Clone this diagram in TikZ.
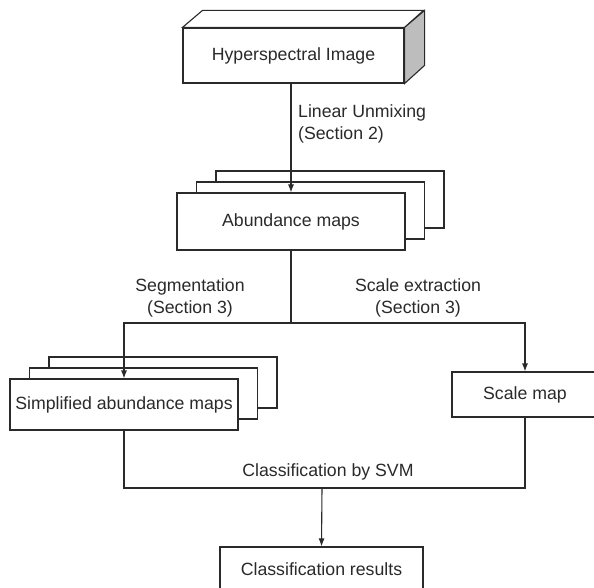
\documentclass[tikz,border=0pt]{standalone}
\usepackage{fontspec}
\setmainfont{Liberation Sans}
\usepackage{xcolor}
\usepackage{tikz}
\usetikzlibrary{arrows.meta}

\definecolor{inkgray}{HTML}{2A2A2A}
\definecolor{sidegray}{HTML}{BDBDBD}
\tikzset{
  box/.style={draw=inkgray, line width=1.1pt, fill=white, inner sep=0pt,
    text=inkgray, font=\fontsize{17.7}{22}\selectfont},
  lbl/.style={inner sep=0pt, text=inkgray, font=\fontsize{17.7}{22}\selectfont},
  arr/.style={draw=inkgray, line width=1.1pt, -{Latex[length=8pt,width=6pt]}},
  ln/.style={draw=inkgray, line width=1.1pt}
}

\begin{document}
\begin{tikzpicture}[x=1pt,y=-1pt]
\clip (0,0) rectangle (594,588);
\fill[white] (0,0) rectangle (594,588);
% hyperspectral cube
\node[box, minimum width=221pt, minimum height=55pt] (hsi) at (293.5,55.5) {Hyperspectral Image};
\draw[ln, fill=white] (hsi.north west) -- ++(20,-17) -- ++(221,0) -- (hsi.north east) -- cycle;
\draw[ln, fill=sidegray] (hsi.north east) -- ++(20,-17) -- ++(0,55) -- (hsi.south east) -- cycle;
% stacked maps
\foreach \k in {2,1}
  \node[box, minimum width=228pt, minimum height=57pt] (abd\k) at (291+\k*19.5,221.5-\k*11) {};
\node[box, minimum width=228pt, minimum height=57pt] (abd) at (291,221.5) {Abundance maps};
\foreach \k in {2,1}
  \node[box, minimum width=228pt, minimum height=51pt] (sam\k) at (124+\k*19.5,404.5-\k*11) {};
\node[box, minimum width=228pt, minimum height=51pt] (sam) at (124,404.5) {Simplified abundance maps};
\node[box, minimum width=146pt, minimum height=45pt] (scl) at (525,394.5) {Scale map};
\node[box, minimum width=203pt, minimum height=45pt] (res) at (321.5,569.5) {Classification results};
% connectors
\coordinate (split) at (291,323);
\coordinate (merge) at (322,488);
\draw[arr] (hsi.south -| abd.north) -- (abd.north);
\draw[ln] (abd.south) -- (split);
\draw[arr] (split) -| (sam.north);
\draw[arr] (split) -| (scl.north);
\draw[ln] (sam.south) |- (merge) -| (scl.south);
\draw[arr] (merge) -- (res.north);
% labels
\node[lbl, anchor=west, align=left] (unmix) at (298,124) {Linear Unmixing\\(Section 2)};
\node[lbl, align=center] (seg) at (190,298) {Segmentation\\(Section 3)};
\node[lbl, align=center] (scale) at (418,298) {Scale extraction\\(Section 3)};
\node[lbl] (svm) at (328,472) {Classification by SVM};
\end{tikzpicture}
\end{document}
